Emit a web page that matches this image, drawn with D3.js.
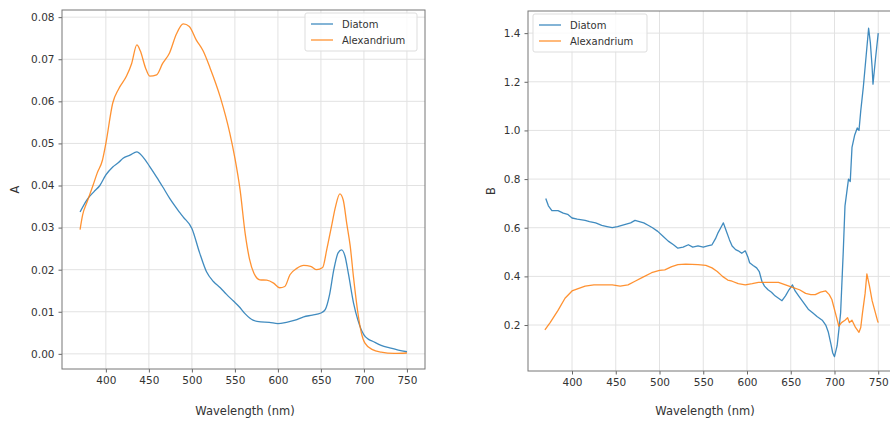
<!DOCTYPE html>
<html>
<head>
<meta charset="utf-8">
<script src="https://cdn.jsdelivr.net/npm/d3@7"></script>
<style>
  body { margin: 0; background: #fff; }
  svg { display: block; font-family: "DejaVu Sans", sans-serif; }
</style>
</head>
<body>
<div id="chart"></div>
<script>
// Absorbance spectra (left panel)
const diatomA_wl = [370, 378, 386, 393, 400, 408, 415, 420, 428, 436, 443, 451, 459, 466, 474, 480, 485, 490, 500, 509, 517, 525, 533, 540, 548, 555, 562, 571, 580, 590, 600, 610, 620, 630, 640, 650, 655, 660, 665, 670, 674, 678, 682, 688, 693, 700, 705, 710, 720, 730, 740, 750];
const diatomA = [0.0337, 0.0366, 0.0385, 0.0400, 0.0425, 0.0444, 0.0455, 0.0465, 0.0472, 0.0480, 0.0468, 0.0445, 0.0420, 0.0397, 0.0370, 0.0352, 0.0338, 0.0325, 0.0298, 0.0240, 0.0195, 0.0172, 0.0157, 0.0142, 0.0126, 0.0112, 0.0095, 0.0080, 0.0076, 0.0075, 0.0072, 0.0075, 0.0080, 0.0088, 0.0092, 0.0097, 0.0105, 0.0140, 0.0200, 0.0240, 0.0247, 0.0232, 0.0190, 0.0120, 0.0080, 0.0045, 0.0035, 0.0030, 0.0020, 0.0014, 0.0009, 0.0005];

const alexA_wl = [370, 373, 378, 385, 390, 396, 400, 408, 415, 424, 430, 436, 440, 446, 451, 459, 466, 474, 482, 490, 497, 505, 513, 521, 533, 544, 550, 556, 562, 567, 572, 579, 587, 595, 602, 608, 614, 622, 630, 638, 645, 652, 657, 662, 667, 672, 676, 680, 684, 688, 693, 697, 701, 710, 720, 735, 750];
const alexA = [0.0295, 0.0330, 0.0360, 0.0400, 0.0430, 0.0460, 0.0500, 0.0596, 0.0630, 0.0660, 0.0690, 0.0734, 0.0720, 0.0680, 0.0660, 0.0663, 0.0690, 0.0715, 0.0760, 0.0784, 0.0778, 0.0746, 0.0720, 0.0680, 0.0610, 0.0525, 0.0465, 0.0390, 0.0285, 0.0225, 0.0192, 0.0176, 0.0175, 0.0168, 0.0157, 0.0160, 0.0188, 0.0203, 0.0210, 0.0208, 0.0200, 0.0205, 0.0250, 0.0300, 0.0350, 0.0380, 0.0365, 0.0310, 0.0257, 0.0180, 0.0097, 0.0050, 0.0026, 0.0010, 0.0004, 0.0001, 0.0002];

// B spectra (right panel)
const diatomB_wl = [370, 373, 377, 384, 390, 395, 400, 406, 415, 420, 427, 434, 440, 446, 452, 457, 462, 467, 472, 477, 482, 487, 492, 498, 504, 510, 516, 521, 527, 533, 538, 544, 550, 555, 560, 564, 567, 570, 573, 576, 580, 583, 587, 590, 594, 598, 601, 603, 607, 611, 614, 617, 620, 624, 628, 632, 636, 640, 644, 648, 652, 655, 659, 664, 670, 675, 680, 686, 690, 693, 696, 698, 700, 703, 705, 707, 710, 712, 716, 718, 720, 723, 726, 728, 730, 733, 736, 739, 741, 743, 744, 747, 750];
const diatomB = [0.72, 0.69, 0.67, 0.67, 0.66, 0.655, 0.64, 0.635, 0.63, 0.625, 0.62, 0.61, 0.605, 0.60, 0.605, 0.61, 0.615, 0.62, 0.63, 0.625, 0.62, 0.61, 0.60, 0.585, 0.565, 0.545, 0.53, 0.516, 0.52, 0.53, 0.52, 0.525, 0.52, 0.525, 0.53, 0.555, 0.58, 0.60, 0.62, 0.59, 0.55, 0.525, 0.51, 0.505, 0.495, 0.505, 0.48, 0.456, 0.445, 0.435, 0.42, 0.38, 0.36, 0.345, 0.335, 0.32, 0.31, 0.30, 0.32, 0.345, 0.365, 0.34, 0.32, 0.295, 0.265, 0.25, 0.235, 0.22, 0.20, 0.17, 0.12, 0.085, 0.07, 0.115, 0.18, 0.25, 0.50, 0.69, 0.80, 0.79, 0.93, 0.98, 1.01, 1.00, 1.08, 1.18, 1.30, 1.42, 1.36, 1.26, 1.19, 1.30, 1.40];

const alexB_wl = [369, 375, 384, 392, 400, 407, 415, 425, 434, 446, 455, 464, 472, 480, 491, 500, 506, 514, 521, 530, 544, 553, 560, 566, 572, 578, 583, 590, 598, 606, 613, 625, 636, 644, 652, 660, 667, 673, 678, 684, 690, 694, 697, 701, 705, 708, 712, 715, 717, 720, 724, 728, 730, 732, 735, 737, 740, 743, 746, 749, 750];
const alexB = [0.18, 0.21, 0.26, 0.31, 0.34, 0.35, 0.36, 0.365, 0.365, 0.365, 0.36, 0.365, 0.38, 0.395, 0.415, 0.425, 0.427, 0.44, 0.448, 0.45, 0.448, 0.445, 0.435, 0.42, 0.40, 0.385, 0.38, 0.37, 0.365, 0.37, 0.375, 0.375, 0.375, 0.365, 0.355, 0.345, 0.33, 0.325, 0.325, 0.335, 0.34, 0.325, 0.305, 0.25, 0.195, 0.21, 0.22, 0.23, 0.21, 0.22, 0.19, 0.17, 0.19, 0.25, 0.33, 0.41, 0.36, 0.30, 0.26, 0.22, 0.21];

const seriesNames = ["Diatom", "Alexandrium"];
const xTicks = [400, 450, 500, 550, 600, 650, 700, 750];
const yTicksA = [0.00, 0.01, 0.02, 0.03, 0.04, 0.05, 0.06, 0.07, 0.08];
const yTicksB = [0.2, 0.4, 0.6, 0.8, 1.0, 1.2, 1.4];

const width = 890, height = 426;
const colors = ["#1f77b4", "#ff7f0e"];

const svg = d3.select("#chart").append("svg")
    .attr("width", width)
    .attr("height", height);

function drawPanel(opt) {
    const x = d3.scaleLinear().domain(opt.xDomain).range([opt.left, opt.right]);
    const y = d3.scaleLinear().domain(opt.yDomain).range([opt.bottom, opt.top]);
    const g = svg.append("g");

    // grid
    g.selectAll(".vg").data(opt.xTicks).join("line")
        .attr("x1", d => x(d)).attr("x2", d => x(d))
        .attr("y1", opt.top).attr("y2", opt.bottom)
        .attr("stroke", "#e2e2e2").attr("stroke-width", 1);
    g.selectAll(".hg").data(opt.yTicks).join("line")
        .attr("x1", opt.left).attr("x2", opt.right)
        .attr("y1", d => y(d)).attr("y2", d => y(d))
        .attr("stroke", "#e2e2e2").attr("stroke-width", 1);

    // lines
    const line = d3.line().x(d => x(d[0])).y(d => y(d[1])).curve(opt.curve);
    opt.series.forEach((s, i) => {
        const pts = s.wl.map((w, j) => [w, s.v[j]]);
        g.append("path")
            .attr("d", line(pts))
            .attr("fill", "none")
            .attr("stroke", colors[i])
            .attr("stroke-width", 1.3)
            .attr("stroke-opacity", 0.85)
            .attr("stroke-linejoin", "round");
    });

    // axes
    const xAxis = g.append("g")
        .attr("transform", `translate(0,${opt.bottom})`)
        .call(d3.axisBottom(x).tickValues(opt.xTicks).tickSize(3.5).tickPadding(4).tickFormat(d3.format("d")));
    const yAxis = g.append("g")
        .attr("transform", `translate(${opt.left},0)`)
        .call(d3.axisLeft(y).tickValues(opt.yTicks).tickSize(3.5).tickPadding(4).tickFormat(opt.yFormat));
    [xAxis, yAxis].forEach(a => {
        a.select(".domain").remove();
        a.selectAll("line").attr("stroke", "#666");
        a.selectAll("text").attr("font-size", "10.5px").attr("fill", "#333")
            .attr("font-family", "DejaVu Sans, sans-serif");
    });

    // frame
    g.append("rect")
        .attr("x", opt.left).attr("y", opt.top)
        .attr("width", opt.right - opt.left).attr("height", opt.bottom - opt.top)
        .attr("fill", "none").attr("stroke", "#777").attr("stroke-width", 1);

    // axis labels
    g.append("text")
        .attr("x", opt.labelX)
        .attr("y", 415)
        .attr("text-anchor", "middle")
        .attr("font-size", "11.5px").attr("fill", "#333")
        .text("Wavelength (nm)");
    g.append("text")
        .attr("transform", `translate(${opt.yLabelX},${(opt.top + opt.bottom) / 2}) rotate(-90)`)
        .attr("text-anchor", "middle")
        .attr("font-size", "11.5px").attr("fill", "#333")
        .text(opt.yLabel);

    // legend
    const lg = g.append("g").attr("transform", `translate(${opt.legend[0]},${opt.legend[1]})`);
    lg.append("rect")
        .attr("x", 0).attr("y", 0).attr("width", opt.legend[2]).attr("height", 38)
        .attr("rx", 2).attr("fill", "#fff").attr("fill-opacity", 0.8)
        .attr("stroke", "#ddd").attr("stroke-width", 1);
    seriesNames.forEach((name, i) => {
        const yy = 11 + i * 16;
        lg.append("line")
            .attr("x1", 6).attr("x2", 28).attr("y1", yy).attr("y2", yy)
            .attr("stroke", colors[i]).attr("stroke-width", 1.3).attr("stroke-opacity", 0.85);
        lg.append("text")
            .attr("x", 37).attr("y", yy).attr("dy", "0.35em")
            .attr("font-size", "10px").attr("fill", "#333")
            .text(name);
    });
}

drawPanel({
    left: 62, right: 425, top: 10, bottom: 369,
    xDomain: [349, 771], yDomain: [-0.0036, 0.0817],
    xTicks: xTicks, yTicks: yTicksA, yFormat: d3.format(".2f"),
    yLabel: "A", yLabelX: 19, labelX: 245,
    curve: d3.curveMonotoneX,
    series: [{ wl: diatomA_wl, v: diatomA }, { wl: alexA_wl, v: alexA }],
    legend: [305, 13, 112]
});

drawPanel({
    left: 528, right: 896, top: 11, bottom: 371,
    xDomain: [349.7, 770.3], yDomain: [0.011, 1.491],
    xTicks: xTicks, yTicks: yTicksB, yFormat: d3.format(".1f"),
    yLabel: "B", yLabelX: 495, labelX: 705,
    curve: d3.curveLinear,
    series: [{ wl: diatomB_wl, v: diatomB }, { wl: alexB_wl, v: alexB }],
    legend: [533, 14, 114]
});
</script>
</body>
</html>
